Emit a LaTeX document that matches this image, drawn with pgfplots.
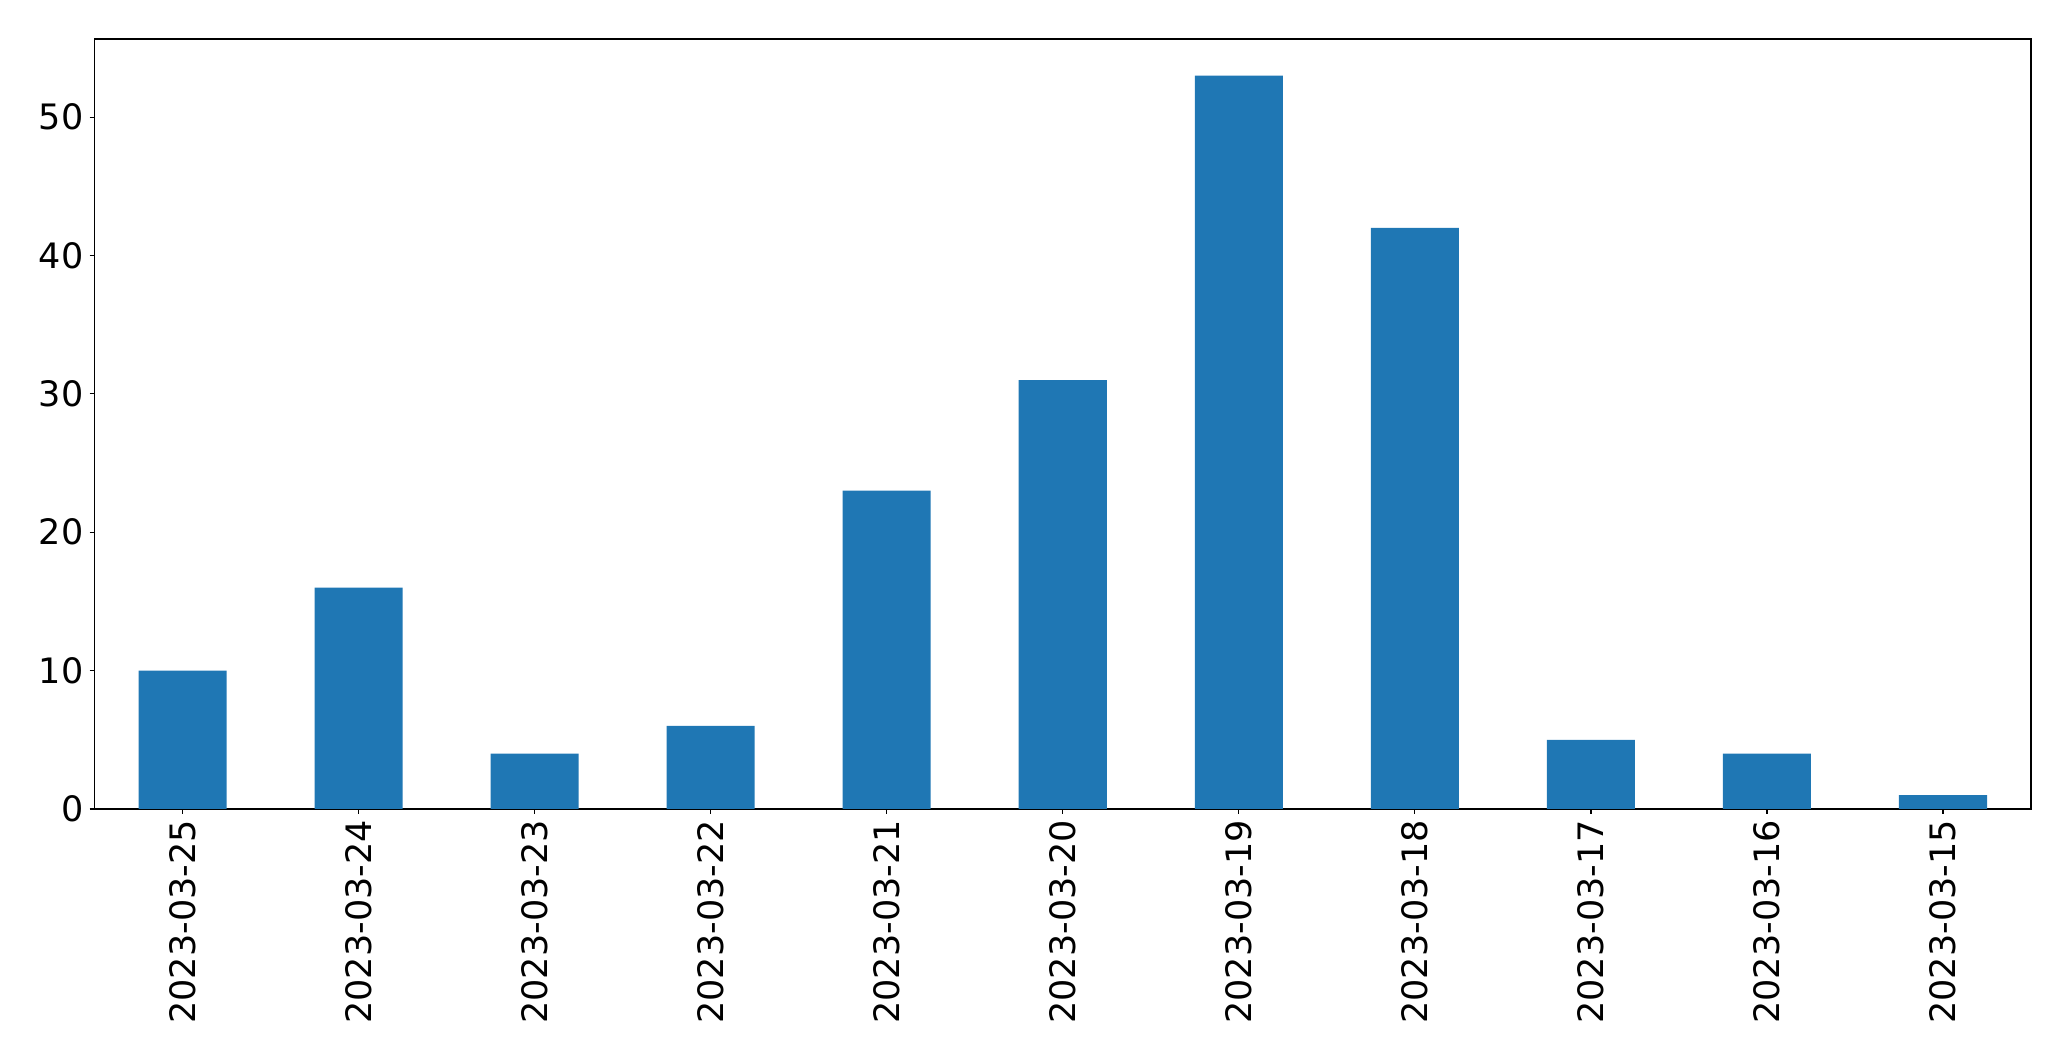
\documentclass[border=0pt]{standalone}
\usepackage{fontspec}
\setmainfont{DejaVu Sans}
\usepackage{pgfplots}
\pgfplotsset{compat=1.18}
\definecolor{barblue}{HTML}{1F77B4}

\pgfplotstableread{
x  count
0  10
1  16
2  4
3  6
4  23
5  31
6  53
7  42
8  5
9  4
10 1
}\counts

\begin{document}
\begin{tikzpicture}
\begin{axis}[
    scale only axis,
    width=968.25pt,
    height=385pt,
    xmin=-0.5, xmax=10.5,
    ymin=0, ymax=55.65,
    axis line style={line width=0.6pt},
    xtick=data,
    xticklabels={2023-03-25,2023-03-24,2023-03-23,2023-03-22,2023-03-21,2023-03-20,2023-03-19,2023-03-18,2023-03-17,2023-03-16,2023-03-15},
    ytick={0,10,20,30,40,50},
    tick align=outside,
    tick pos=left,
    major tick length=2.4pt,
    tick style={line width=0.6pt, black},
    /pgf/number format/assume math mode=true,
    ticklabel style={font=\fontsize{17.5}{21}\selectfont},
    xticklabel style={rotate=90, anchor=east, inner sep=3pt},
    yticklabel style={inner sep=3pt},
]
\addplot[ybar, bar width=0.5, fill=barblue, draw=none] table[x=x, y=count] {\counts};
\end{axis}
\path ([shift={(-47.25pt,-126pt)}]current axis.south west) rectangle ([shift={(20pt,19.5pt)}]current axis.north east);
\end{tikzpicture}
\end{document}
